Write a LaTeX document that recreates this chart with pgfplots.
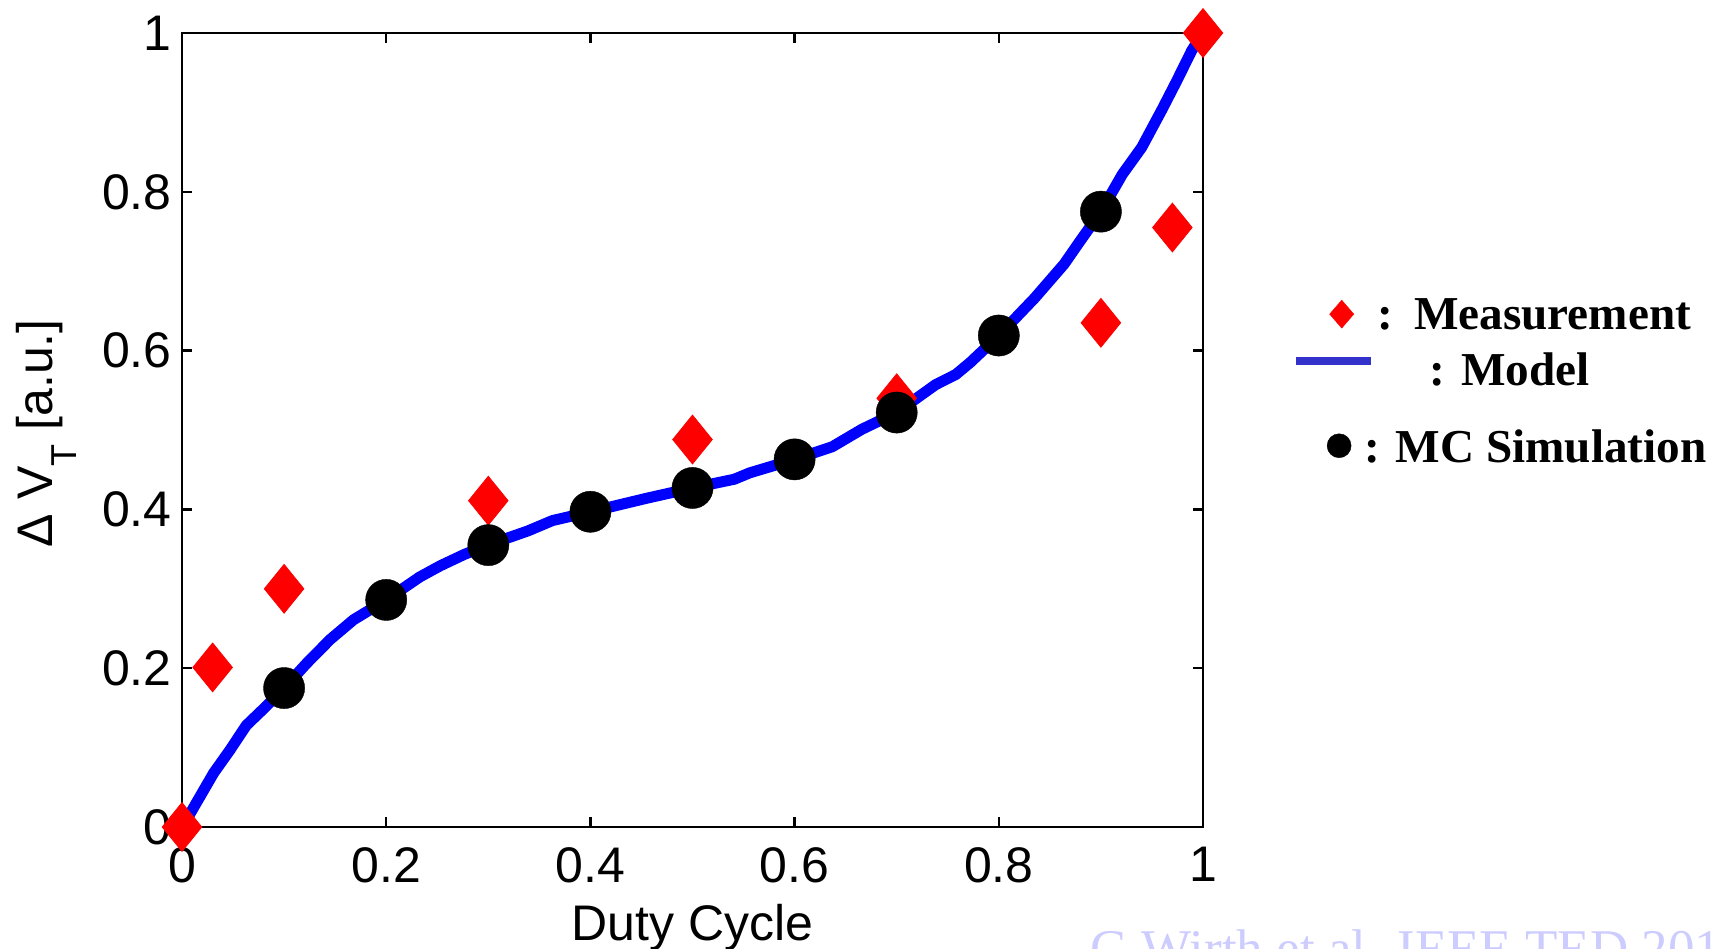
\documentclass[border=0pt]{standalone}
\usepackage{fontspec}
\setmainfont{Liberation Sans}
\newfontfamily\serif{Liberation Serif}
\usepackage{pgfplots}
\pgfplotsset{compat=1.18}

\definecolor{modelblue}{RGB}{0,0,255}
\definecolor{legblue}{RGB}{51,51,204}
\definecolor{markred}{RGB}{255,0,0}
\definecolor{credit}{RGB}{204,204,255}

% measured threshold-voltage shift
\pgfplotstableread{
x     y
0     0
0.03  0.201
0.1   0.300
0.3   0.411
0.5   0.488
0.7   0.540
0.9   0.635
0.97  0.755
1.0   1.0
}\measured

% Monte-Carlo simulation
\pgfplotstableread{
x    y
0.1  0.175
0.2  0.286
0.3  0.355
0.4  0.397
0.5  0.427
0.6  0.463
0.7  0.522
0.8  0.619
0.9  0.775
}\mcsim

% analytic model
\pgfplotstableread{
x      y
0      0
0.008  0.017
0.031  0.068
0.047  0.097
0.063  0.128
0.080  0.149
0.100  0.175
0.122  0.206
0.145  0.236
0.168  0.261
0.200  0.286
0.233  0.315
0.253  0.329
0.276  0.343
0.299  0.355
0.339  0.373
0.363  0.386
0.400  0.397
0.455  0.414
0.500  0.427
0.541  0.438
0.556  0.446
0.600  0.463
0.637  0.479
0.666  0.501
0.700  0.522
0.738  0.557
0.758  0.570
0.772  0.585
0.800  0.619
0.835  0.666
0.864  0.709
0.878  0.735
0.900  0.775
0.921  0.822
0.940  0.856
0.960  0.904
0.974  0.939
0.989  0.978
1.000  1.000
}\model

\begin{document}
\begin{tikzpicture}
\begin{axis}[
  at={(91pt,60.5pt)}, anchor=south west,
  scale only axis, width=510.5pt, height=397pt,
  xmin=0, xmax=1, ymin=0, ymax=1,
  xtick={0,0.2,0.4,0.6,0.8,1},
  ytick={0,0.2,0.4,0.6,0.8,1},
  tick align=inside, major tick length=5pt,
  axis line style={line width=1.2pt},
  every tick/.style={black, line width=1.2pt},
  clip=false,
  tick label style={font=\fontsize{25}{25}\selectfont},
  /pgf/number format/assume math mode=true,
  xticklabel style={inner sep=0pt, yshift=-10pt},
  yticklabel style={inner sep=0pt, xshift=-5pt},
  label style={font=\fontsize{25}{25}\selectfont},
  xlabel={Duty Cycle},
  xlabel style={at={(axis description cs:0.5,-0.1428)}, anchor=base, inner sep=0pt},
  ylabel={Δ V\raisebox{-12pt}{\fontsize{18}{18}\selectfont T} [a.u.]},
  ylabel style={at={(axis description cs:-0.1028,0.496)}, anchor=south, inner sep=0pt},
  legend cell align=left,
  legend style={
    at={(axis description cs:1.0869,0.6686)}, anchor=north west,
    draw=none, fill=none, inner sep=0pt, outer sep=0pt,
    row sep=9.6pt,
    nodes={inner sep=0pt, text depth=0pt, font=\serif\bfseries\fontsize{23.6}{23.6}\selectfont},
    /tikz/every odd column/.style={column sep=0pt},
  },
]
\addplot[modelblue, line width=5.5pt, line join=round, forget plot] table {\model};
\addplot[only marks, mark=diamond*, mark size=12.2pt,
  mark options={draw=markred, fill=markred, line width=0.4pt, xscale=1.08}, forget plot] table {\measured};
\addplot[only marks, mark=*, mark size=10.3pt,
  mark options={draw=black, fill=black, line width=0.2pt}, forget plot] table {\mcsim};

\addlegendimage{legend image code/.code={
  \path[draw=none, fill=none] (0pt,-9pt) rectangle (38pt,9pt);
  \draw[only marks, mark=diamond*, mark size=7pt,
    mark options={draw=markred, fill=markred, line width=0.2pt, xscale=1.15}]
    plot coordinates {(23pt,0pt)};
}}
\addlegendentry{\hspace{1pt}:\hspace{10.5pt}Measurement}
\addlegendimage{legend image code/.code={
  \path[draw=none, fill=none] (0pt,-9pt) rectangle (38pt,9pt);
  \draw[legblue, line width=4pt] (0pt,4pt) -- (37.8pt,4pt);
}}
\addlegendentry{\hspace{27.3pt}: Model}
\addlegendimage{legend image code/.code={
  \path[draw=none, fill=none] (0pt,-9pt) rectangle (38pt,19.6pt);
  \draw[only marks, mark=*, mark size=6pt,
    mark options={draw=black, fill=black, line width=0.2pt}]
    plot coordinates {(21.7pt,0pt)};
}}
\addlegendentry{\hspace{-5.5pt}: MC Simulation}
\end{axis}

\node[anchor=base west, inner sep=0pt, text=credit,
  font=\serif\fontsize{26.5}{26.5}\selectfont] at (545pt,-9pt)
  {G.Wirth et al. IEEE TED 2011};

\pgfresetboundingbox
\useasboundingbox (0pt,0pt) rectangle (856.5pt,474pt);
\end{tikzpicture}
\end{document}
